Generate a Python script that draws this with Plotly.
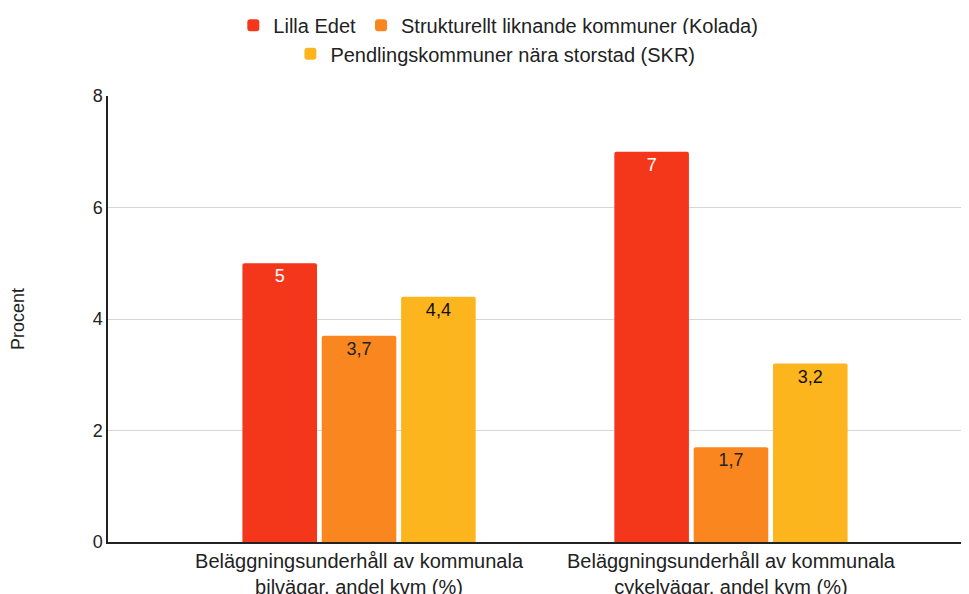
import plotly.graph_objects as go

categories = [
    'Beläggningsunderhåll av kommunala<br>bilvägar, andel kvm (%)',
    'Beläggningsunderhåll av kommunala<br>cykelvägar, andel kvm (%)',
]
lilla_edet = [5, 7]
kolada = [3.7, 1.7]
skr = [4.4, 3.2]

series = [
    ('Lilla Edet', lilla_edet, '#f4361a', 'white', 'legend'),
    ('Strukturellt liknande kommuner (Kolada)', kolada, '#f9861e', '#222222', 'legend'),
    ('Pendlingskommuner nära storstad (SKR)', skr, '#fdb51e', '#111111', 'legend2'),
]

fig = go.Figure()
for name, vals, color, tcolor, leg in series:
    fig.add_trace(go.Bar(
        x=categories,
        y=vals,
        name=name,
        marker=dict(color=color, line=dict(width=0)),
        text=[f'{v:g}'.replace('.', ',') for v in vals],
        textposition='inside',
        insidetextanchor='end',
        textangle=0,
        textfont=dict(size=18, color=tcolor, family='Liberation Sans, Arial'),
        legend=leg,
    ))

# page body adds an 8px offset, so margins are shifted to compensate
fig.update_layout(
    width=969,
    height=594,
    margin=dict(l=100, r=8, t=88, b=60, autoexpand=False),
    paper_bgcolor='white',
    plot_bgcolor='white',
    font=dict(family='Liberation Sans, Arial', size=18, color='#222222'),
    barmode='group',
    bargap=0.36,
    bargroupgap=0.06,
    barcornerradius=2,
    showlegend=True,
    legend=dict(
        orientation='h',
        xref='container', yref='container',
        x=0.506, y=0.971,
        xanchor='center', yanchor='middle',
        font=dict(size=20),
        itemwidth=30,
    ),
    legend2=dict(
        orientation='h',
        xref='container', yref='container',
        x=0.503, y=0.923,
        xanchor='center', yanchor='middle',
        font=dict(size=20),
        itemwidth=30,
    ),
    xaxis=dict(
        range=[-0.675, 1.64],
        showline=True,
        linecolor='#222222',
        linewidth=1.5,
        tickfont=dict(size=20, color='#222222'),
        ticks='',
        automargin=False,
    ),
    yaxis=dict(
        range=[0, 8],
        dtick=2,
        showline=True,
        linecolor='#222222',
        linewidth=1.5,
        gridcolor='#d6d6d6',
        gridwidth=1,
        zeroline=False,
        tickfont=dict(size=18, color='#222222'),
        ticks='',
        automargin=False,
        title=dict(text='Procent', font=dict(size=18, color='#222222'), standoff=63),
    ),
)

fig.write_html("out.html")
